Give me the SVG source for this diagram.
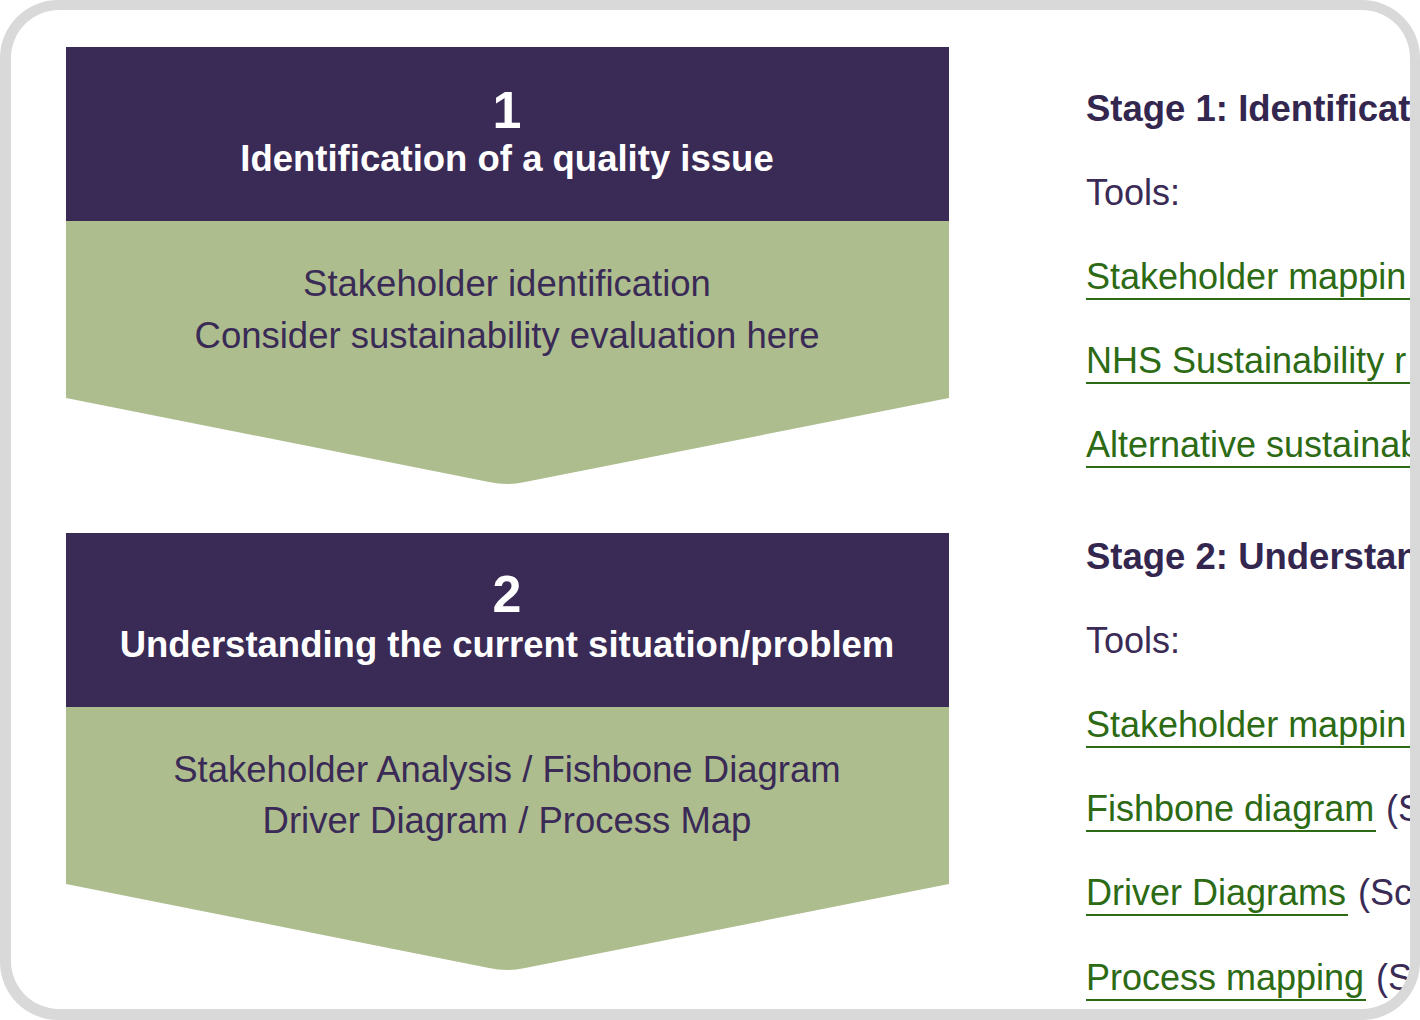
<svg xmlns="http://www.w3.org/2000/svg" width="1420" height="1020" viewBox="0 0 1420 1020">
  <style>
    text { font-family: "Liberation Sans", Arial, sans-serif; }
    .head { fill: #3a2a56; }
    .body { fill: #adbd8e; }
    .num { fill: #ffffff; font-weight: bold; font-size: 52px; text-anchor: middle; }
    .title { fill: #ffffff; font-weight: bold; font-size: 36.5px; text-anchor: middle; }
    .desc { fill: #3a2a56; font-size: 36.5px; text-anchor: middle; }
    .stage { fill: #33264f; font-weight: bold; font-size: 36.5px; }
    .plain { fill: #3a2a56; font-size: 36px; }
    .link { fill: #2c6a14; font-size: 36px; }
    .ul { stroke: #2c6a14; stroke-width: 2; }
    .frame { fill: #d9d9d9; fill-rule: evenodd; }
  </style>

  <rect x="0" y="0" width="1420" height="1020" fill="#ffffff"/>

  <g id="stage1">
    <path class="body" d="M66,221 H949 V398 L525,482 Q507,486 489,482 L66,398 Z"/>
    <rect class="head" x="66" y="47" width="883" height="174"/>
    <text class="num" x="507" y="128">1</text>
    <text class="title" x="507" y="171">Identification of a quality issue</text>
    <text class="desc" x="507" y="296">Stakeholder identification</text>
    <text class="desc" x="507" y="348">Consider sustainability evaluation here</text>
  </g>

  <g id="stage2">
    <path class="body" d="M66,707 H949 V884 L525,968 Q507,972 489,968 L66,884 Z"/>
    <rect class="head" x="66" y="533" width="883" height="174"/>
    <text class="num" x="507" y="612">2</text>
    <text class="title" x="507" y="657">Understanding the current situation/problem</text>
    <text class="desc" x="507" y="782">Stakeholder Analysis / Fishbone Diagram</text>
    <text class="desc" x="507" y="833">Driver Diagram / Process Map</text>
  </g>

  <g id="connectors"></g>

  <g id="stage-notes">
    <text class="stage" x="1086" y="121">Stage 1: Identificat</text>
    <text class="plain" x="1086" y="205">Tools:</text>
    <text class="link" x="1086" y="289">Stakeholder mappin</text>
    <line class="ul" x1="1086" y1="299" x2="1412" y2="299"/>
    <text class="link" x="1086" y="373">NHS Sustainability r</text>
    <line class="ul" x1="1086" y1="383" x2="1412" y2="383"/>
    <text class="link" x="1086" y="457">Alternative sustainab</text>
    <line class="ul" x1="1086" y1="467" x2="1412" y2="467"/>

    <text class="stage" x="1086" y="569">Stage 2: Understan</text>
    <text class="plain" x="1086" y="653">Tools:</text>
    <text class="link" x="1086" y="737">Stakeholder mappin</text>
    <line class="ul" x1="1086" y1="747" x2="1412" y2="747"/>
    <text class="link" x="1086" y="821">Fishbone diagram</text>
    <line class="ul" x1="1086" y1="831" x2="1376" y2="831"/>
    <text class="plain" x="1386" y="821">(S</text>
    <text class="link" x="1086" y="905">Driver Diagrams</text>
    <line class="ul" x1="1086" y1="915" x2="1348" y2="915"/>
    <text class="plain" x="1358" y="905">(Sc</text>
    <text class="link" x="1086" y="990">Process mapping</text>
    <line class="ul" x1="1086" y1="1000" x2="1366" y2="1000"/>
    <text class="plain" x="1376" y="990">(S</text>
  </g>

  <path class="frame" d="M58,0 H1362 A58,58 0 0 1 1420,58 V962 A58,58 0 0 1 1362,1020 H58 A58,58 0 0 1 0,962 V58 A58,58 0 0 1 58,0 Z M59,10 A48,48 0 0 0 11,58 V961 A48,48 0 0 0 59,1009 H1362 A48,48 0 0 0 1410,961 V58 A48,48 0 0 0 1362,10 Z"/>
</svg>
